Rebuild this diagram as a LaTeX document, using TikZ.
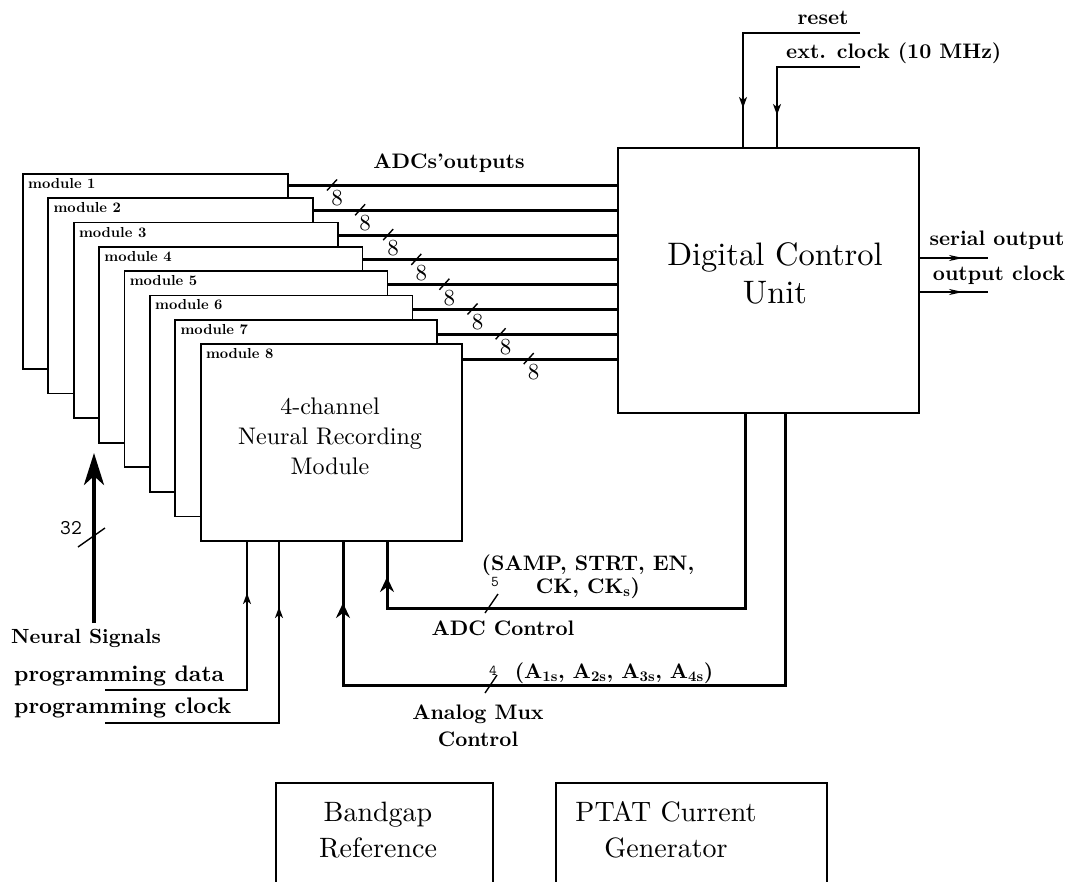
\documentclass[tikz,border=0pt]{standalone}
\usepackage{fontspec}
\setmainfont{lmroman10}[Extension=.otf,UprightFont=*-regular,BoldFont=*-bold]
\usetikzlibrary{arrows.meta}
\begin{document}
\begin{tikzpicture}[x=1pt,y=-1pt,
  box/.style={draw,line width=2pt,fill=white,inner sep=0pt,anchor=north west},
  modbox/.style={draw,line width=1.7pt,fill=white,inner sep=0pt,anchor=north west},
  modlab/.style={font=\fontsize{14.5}{16}\selectfont\bfseries,inner sep=0pt},
  lab/.style={font=\fontsize{21}{24}\selectfont\bfseries,inner sep=0pt},
  plab/.style={font=\fontsize{22.5}{25}\selectfont\bfseries,inner sep=0pt},
  eight/.style={font=\fontsize{23}{25}\selectfont,inner sep=0pt},
  small/.style={font=\fontsize{15}{17}\selectfont\ttfamily,inner sep=0pt},
  bus/.style={line width=3pt},
  heavy/.style={line width=3pt},
  thinline/.style={line width=1.5pt},
  tick/.style={line width=1.4pt},
  thintip/.style={-{Stealth[length=11pt,width=8pt,inset=3pt]}},
  outtip/.style={-{Stealth[length=14pt,width=6pt,inset=4pt]}},
  heavytip/.style={-{Stealth[length=15pt,width=14pt,inset=5pt]}},
  bigtip/.style={-{Stealth[length=32pt,width=20pt,inset=9pt]}}]
\useasboundingbox (0,0) rectangle (1071,881);

% stacked recording modules, module 1 at the back
\foreach \k in {1,...,8}{
  \pgfmathsetmacro{\L}{22+25.4*(\k-1)}
  \pgfmathsetmacro{\T}{173+24.3*(\k-1)}
  \pgfmathsetmacro{\W}{265-0.5*(\k-1)}
  \pgfmathsetmacro{\H}{195+0.3*(\k-1)}
  \node[modbox,minimum width=\W pt,minimum height=\H pt] (m\k) at (\L,\T) {};
  \node[modlab,anchor=west] (ml\k) at ([xshift=6pt,yshift=-10.5pt]m\k.north west) {module \k};
}
\node[font=\fontsize{24}{30}\selectfont,align=center] (nrm) at (330,436)
  {4-channel\\Neural Recording\\Module};

% digital control unit
\node[box,minimum width=301pt,minimum height=265pt] (dcu) at (617,147) {};
\node[font=\fontsize{32.5}{38}\selectfont,align=center] (dcut) at (775,273)
  {Digital Control\\Unit};

% ADC output buses
\node[lab] (adco) at (449,163) {ADCs'outputs};
\foreach \k in {1,...,8}{
  \pgfmathsetmacro{\Y}{185.5+24.8*(\k-1)}
  \pgfmathsetmacro{\S}{332+28.1*(\k-1)}
  \coordinate (b\k) at (\S,\Y);
  \draw[bus] (m\k.east |- b\k) -- (dcu.west |- b\k);
  \draw[tick] ([shift={(-5,5)}]b\k) -- ([shift={(5,-6)}]b\k);
  \node[eight] (e\k) at ([shift={(5,13)}]b\k) {8};
}

% reset and external clock
\coordinate (rsin) at (860,33);
\coordinate (rsx) at (743,147);
\coordinate (rsa) at (743,70);
\coordinate (rst) at (743,108);
\coordinate (ckin) at (860,67);
\coordinate (ckx) at (777,147);
\coordinate (cka) at (777,80);
\coordinate (ckt) at (777,115);
\draw[thinline] (rsin) -| (rsx);
\draw[thinline,thintip] (rsa) -- (rst);
\draw[thinline] (ckin) -| (ckx);
\draw[thinline,thintip] (cka) -- (ckt);
\node[lab] (rsl) at (823,18) {reset};
\node[lab,anchor=west] (ckl) at (786,53) {ext. clock (10 MHz)};

% serial outputs
\coordinate (so) at (988,258);
\coordinate (sot) at (963,258);
\coordinate (oc) at (988,292);
\coordinate (oct) at (963,292);
\draw[thinline] (dcu.east |- so) -- (so);
\draw[thinline,outtip] (dcu.east |- so) -- (sot);
\draw[thinline] (dcu.east |- oc) -- (oc);
\draw[thinline,outtip] (dcu.east |- oc) -- (oct);
\node[lab] (sol) at (997,240) {serial output};
\node[lab] (ocl) at (999,275) {output clock};

% neural signal inputs
\coordinate (nsin) at (94,623);
\coordinate (nstip) at (94,453);
\draw[line width=4pt,bigtip] (nsin) -- (nstip);
\coordinate (ns32) at (92,537);
\draw[tick] ([shift={(-14,10)}]ns32) -- ([shift={(13,-9)}]ns32);
\node[font=\fontsize{21}{23}\selectfont\ttfamily,inner sep=0pt] (n32) at (71,528) {32};
\node[lab,font=\fontsize{20.5}{23}\selectfont\bfseries,anchor=west] (nsl) at (11,638) {Neural Signals};

% programming inputs
\coordinate (pdin) at (105,690);
\coordinate (pdx) at (247,540);
\coordinate (pda) at (247,640);
\coordinate (pdt) at (247,593);
\coordinate (pcin) at (105,723);
\coordinate (pcx) at (279,540);
\coordinate (pca) at (279,650);
\coordinate (pct) at (279,607);
\draw[thinline] (pdin) -| (pdx);
\draw[thinline,thintip] (pda) -- (pdt);
\draw[thinline] (pcin) -| (pcx);
\draw[thinline,thintip] (pca) -- (pct);
\node[plab,anchor=west] (pdl) at (14,676) {programming data};
\node[plab,anchor=west] (pcl) at (14,708) {programming clock};

% ADC control bus
\coordinate (acx) at (745,412);
\coordinate (acc) at (387,608);
\coordinate (acm) at (387,540);
\coordinate (act) at (387,577);
\draw[heavy] (acx) |- (acc) -- (acm);
\draw[heavy,heavytip] (acc) -- (act);
\coordinate (ac5) at (491,604);
\draw[tick] ([shift={(-6,9)}]ac5) -- ([shift={(7,-10)}]ac5);
\node[small] (l5) at (495,582) {5};
\node[lab,align=center,font=\fontsize{21}{23}\selectfont\bfseries] (acs) at (588,577)
  {(SAMP, STRT, EN,\\CK, CK\textsubscript{s})};
\node[lab] (acl) at (503,628) {ADC Control};

% analog mux control bus
\coordinate (amx) at (785,412);
\coordinate (amc) at (343,685);
\coordinate (amm) at (343,540);
\coordinate (amt) at (343,603);
\draw[heavy] (amx) |- (amc) -- (amm);
\draw[heavy,heavytip] (amc) -- (amt);
\coordinate (am4) at (491,684);
\draw[tick] ([shift={(-6,9)}]am4) -- ([shift={(6,-9)}]am4);
\node[small] (l4) at (493,671) {4};
\node[lab] (ams) at (614,673) {(A\textsubscript{1s}, A\textsubscript{2s}, A\textsubscript{3s}, A\textsubscript{4s})};
\node[lab,align=center,font=\fontsize{21}{27}\selectfont\bfseries] (aml) at (478,726)
  {Analog Mux\\Control};

% bias blocks
\node[box,minimum width=217pt,minimum height=160pt] (bg) at (275,782) {};
\node[font=\fontsize{28}{36}\selectfont,align=center] (bgt) at (378,830) {Bandgap\\Reference};
\node[box,minimum width=271pt,minimum height=160pt] (pt) at (555,782) {};
\node[font=\fontsize{28}{36}\selectfont,align=center] (ptt) at (666,830) {PTAT Current\\Generator};
\end{tikzpicture}
\end{document}
